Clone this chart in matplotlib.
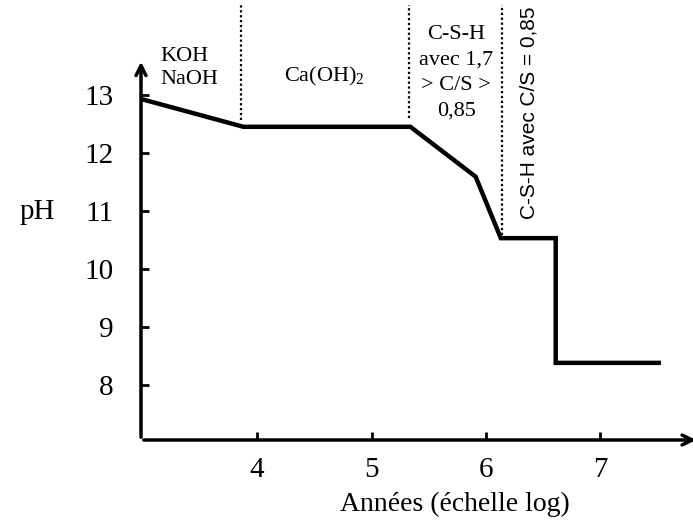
import matplotlib
matplotlib.use("Agg")
import matplotlib.pyplot as plt

plt.rcParams["font.family"] = ["Liberation Serif", "DejaVu Serif"]
plt.rcParams["mathtext.fontset"] = "custom"
plt.rcParams["mathtext.rm"] = "Liberation Serif"

# data
years_log = [2.985, 3.88, 5.34, 5.91, 6.13, 6.61, 6.61, 7.51]
ph_values = [12.93, 12.45, 12.45, 11.59, 10.53, 10.53, 8.38, 8.38]
x_ticks = [4, 5, 6, 7]
y_ticks = [8, 9, 10, 11, 12, 13]
zone_bounds = [3.86, 5.33, 6.14]
zone_bottoms = [12.57, 12.60, 10.59]

x_min, x_max = 2.985, 7.81
y_min, y_top_axis, y_max = 7.05, 13.62, 14.55

fig = plt.figure(figsize=(6.93, 5.28), dpi=100)
ax = fig.add_axes([141 / 693, 88 / 528, 552 / 693, 435 / 528])
ax.set_xlim(x_min, x_max)
ax.set_ylim(y_min, y_max)

for s in ax.spines.values():
    s.set_visible(False)

# axes drawn as arrows
arrow = dict(arrowstyle="->", lw=2.5, color="black", mutation_scale=18)
ax.annotate("", xy=(x_min, y_top_axis), xytext=(x_min, y_min), arrowprops=arrow, annotation_clip=False)
ax.annotate("", xy=(x_max + 0.05, y_min), xytext=(x_min, y_min), arrowprops=arrow, annotation_clip=False)

ax.plot(years_log, ph_values, color="black", lw=3.2, solid_joinstyle="miter")

for xb, yb in zip(zone_bounds, zone_bottoms):
    ax.vlines(xb, yb, y_max, colors="black", linestyles=(0, (1, 1.2)), lw=1.6, clip_on=False)

ax.set_xticks(x_ticks)
ax.set_yticks(y_ticks)
ax.tick_params(axis="both", direction="in", length=6, width=2, labelsize=21)
ax.tick_params(axis="y", pad=20)
ax.tick_params(axis="x", pad=12)

ax.set_xlabel("Années (échelle log)", fontsize=20)
ax.xaxis.set_label_coords(0.569, -0.12)
ax.set_ylabel("pH", fontsize=21, rotation=0, va="center", ha="center")
ax.yaxis.set_label_coords(-0.188, 0.524)

ax.text(3.15, 13.47, "KOH\nNaOH", fontsize=16, ha="left", va="center", linespacing=1.3)
ax.text(4.59, 13.31, "Ca(OH)$_{\\mathregular{2}}$", fontsize=16, ha="center", va="center")
ax.text(5.74, 13.38, "C-S-H\navec 1,7\n> C/S >\n0,85", fontsize=16, ha="center", va="center",
        linespacing=1.45)
ax.text(6.38, 12.69, "C-S-H avec C/S = 0,85", fontsize=15, rotation=90, ha="center", va="center",
        family=["Liberation Sans", "DejaVu Sans"])

fig.savefig("out.png", dpi=100)
